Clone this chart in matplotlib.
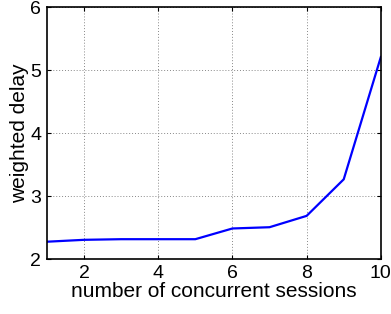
import matplotlib
matplotlib.use("Agg")
import matplotlib.pyplot as plt

# data
sessions = [1, 2, 3, 4, 5, 6, 7, 8, 9, 10]
delay = [2.28, 2.31, 2.32, 2.32, 2.32, 2.49, 2.51, 2.69, 3.27, 5.21]
xticks = [2, 4, 6, 8, 10]
yticks = [2, 3, 4, 5, 6]

plt.rcParams["font.family"] = ["Liberation Sans", "DejaVu Sans"]

fig = plt.figure(figsize=(3.91, 3.14), dpi=100)
ax = fig.add_axes([0.120, 0.174, 0.854, 0.803])

ax.plot(sessions, delay, color="#0000ff", lw=1.6)

ax.set_xlim(1, 10)
ax.set_ylim(2, 6)
ax.set_xticks(xticks)
ax.set_yticks(yticks)
ax.grid(True, linestyle=(0, (1, 2)), color="#888888", lw=0.7)
ax.tick_params(direction="in", top=True, right=True, length=3,
               labelsize=14, width=0.8, pad=4)
for s in ax.spines.values():
    s.set_linewidth(1.2)

ax.set_xlabel("number of concurrent sessions", fontsize=15, labelpad=0)
ax.set_ylabel("weighted delay", fontsize=15, labelpad=1)

fig.savefig("out.png", dpi=100)
